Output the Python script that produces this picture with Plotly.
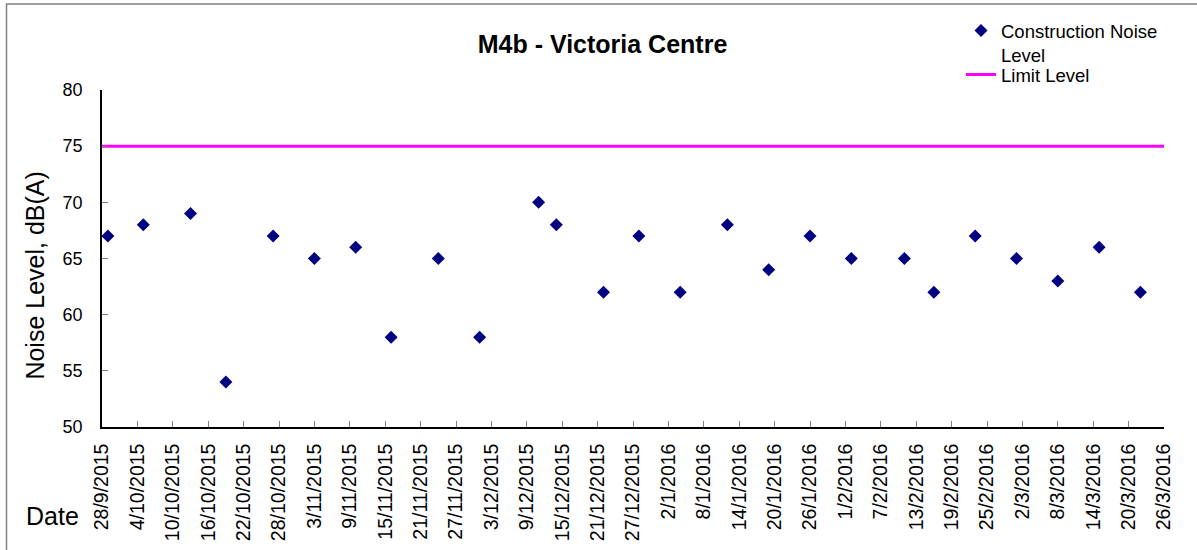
import pandas as pd
import plotly.graph_objects as go

# ---- data ----
measure_dates = ["2015-09-29", "2015-10-05", "2015-10-13", "2015-10-19", "2015-10-27",
                 "2015-11-03", "2015-11-10", "2015-11-16", "2015-11-24", "2015-12-01",
                 "2015-12-11", "2015-12-14", "2015-12-22", "2015-12-28", "2016-01-04",
                 "2016-01-12", "2016-01-19", "2016-01-26", "2016-02-02", "2016-02-11",
                 "2016-02-16", "2016-02-23", "2016-03-01", "2016-03-08", "2016-03-15",
                 "2016-03-22"]
noise_levels = [67, 68, 69, 54, 67, 65, 66, 58, 65, 58, 70, 68, 62, 67, 62,
                68, 64, 67, 65, 65, 62, 67, 65, 63, 66, 62]
limit_level = 75
date_range = ["2015-09-28", "2016-03-26"]
tick_labels = ["28/9/2015", "4/10/2015", "10/10/2015", "16/10/2015", "22/10/2015",
               "28/10/2015", "3/11/2015", "9/11/2015", "15/11/2015", "21/11/2015",
               "27/11/2015", "3/12/2015", "9/12/2015", "15/12/2015", "21/12/2015",
               "27/12/2015", "2/1/2016", "8/1/2016", "14/1/2016", "20/1/2016",
               "26/1/2016", "1/2/2016", "7/2/2016", "13/2/2016", "19/2/2016",
               "25/2/2016", "2/3/2016", "8/3/2016", "14/3/2016", "20/3/2016",
               "26/3/2016"]
y_ticks = [50, 55, 60, 65, 70, 75, 80]

tick_vals = pd.to_datetime(tick_labels, format="%d/%m/%Y")
FONT = "Liberation Sans, Arial, sans-serif"

W, H = 1197, 550
L, R, T, B = 102, 33, 90, 123
pw, ph = W - L - R, H - T - B


def px_x(x):
    return (x - L) / pw


def px_y(y):
    return (H - B - y) / ph


fig = go.Figure()
fig.add_trace(go.Scatter(
    x=pd.to_datetime(measure_dates), y=noise_levels, mode="markers",
    name="Construction Noise<br>Level",
    marker=dict(symbol="diamond", size=10, color="#000080"),
    legend="legend",
))
fig.add_trace(go.Scatter(
    x=pd.to_datetime(date_range), y=[limit_level, limit_level], mode="lines",
    name="Limit Level", line=dict(color="#FF00FF", width=3),
    legend="legend2",
))

fig.update_layout(
    width=W, height=H,
    margin=dict(l=L, r=R, t=T, b=B, autoexpand=False),
    paper_bgcolor="white", plot_bgcolor="white",
    font=dict(family=FONT, color="black"),
    title=dict(text="<b>M4b - Victoria Centre</b>", font=dict(size=25, family=FONT, color="black"),
               x=602.5 / W, xanchor="center", xref="container",
               y=1 - 44 / H, yanchor="middle", yref="container"),
    showlegend=True,
    legend=dict(x=961 / W, xref="container", y=1 - 12 / H, yref="container",
                xanchor="left", yanchor="top", valign="top",
                font=dict(size=18.5, family=FONT, color="black"),
                bgcolor="rgba(0,0,0,0)", borderwidth=0),
    legend2=dict(x=961 / W, xref="container", y=1 - 56 / H, yref="container",
                 xanchor="left", yanchor="top",
                 font=dict(size=18.5, family=FONT, color="black"),
                 bgcolor="rgba(0,0,0,0)", borderwidth=0),
    xaxis=dict(type="date", range=date_range, tickvals=tick_vals, ticktext=tick_labels,
               tickangle=-90, ticks="inside", ticklen=6, tickcolor="#808080", tickwidth=1,
               showline=True, linecolor="black", linewidth=1.5, showgrid=False, zeroline=False,
               tickfont=dict(size=19.5, family=FONT, color="black"), ticklabelstandoff=7),
    yaxis=dict(range=[50, 80], tickvals=y_ticks, ticks="inside", ticklen=6,
               tickcolor="#808080", tickwidth=1,
               showline=True, linecolor="black", linewidth=1.5, showgrid=False, zeroline=False,
               tickfont=dict(size=18, family=FONT, color="black"), ticklabelstandoff=14),
    annotations=[
        dict(text="Noise Level, dB(A)", textangle=-90, xref="paper", yref="paper",
             x=px_x(35), y=px_y(275.6), xanchor="center", yanchor="middle", showarrow=False,
             font=dict(size=25, family=FONT, color="black")),
        dict(text="Date", xref="paper", yref="paper",
             x=px_x(52.5), y=px_y(516), xanchor="center", yanchor="middle", showarrow=False,
             font=dict(size=25, family=FONT, color="black")),
    ],
    shapes=[dict(type="rect", xref="paper", yref="paper",
                 x0=px_x(6.5), x1=px_x(1210), y0=px_y(560), y1=px_y(4),
                 line=dict(color="#808080", width=1.5), fillcolor="rgba(0,0,0,0)", layer="below")],
)

fig.write_html("out.html", config={"displayModeBar": False},
               post_script="document.body.style.margin='0px';")
